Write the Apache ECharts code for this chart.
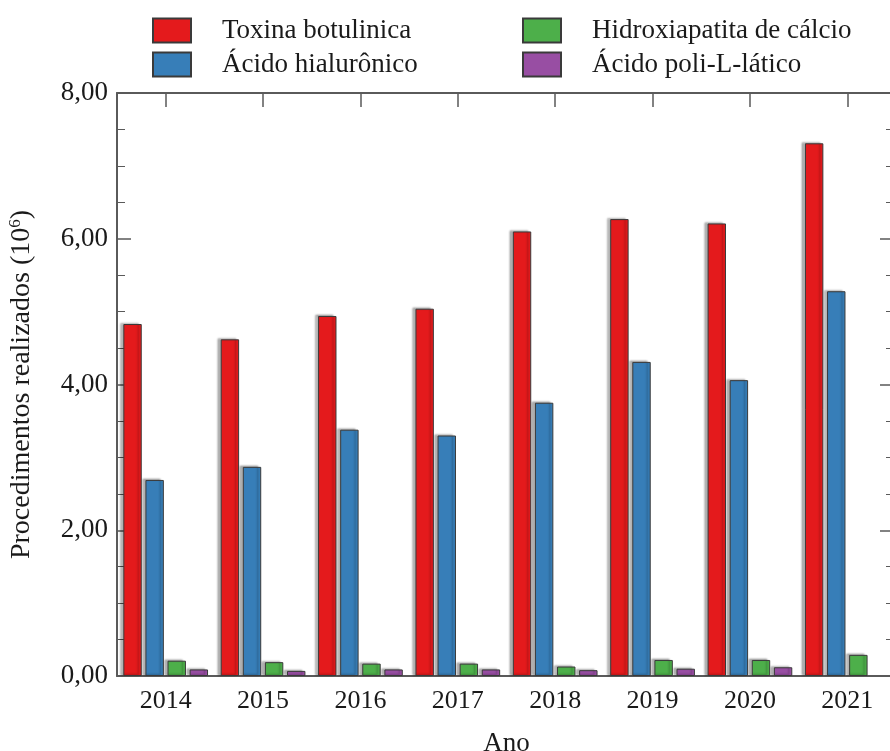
<!DOCTYPE html>
<html>
<head>
<meta charset="utf-8">
<script src="https://cdn.jsdelivr.net/npm/echarts@6/dist/echarts.min.js"></script>
<style>
  html, body { margin: 0; padding: 0; background: #fff; }
  #main { width: 890px; height: 751px; }
</style>
</head>
<body>
<div id="main"></div>
<script>
// dados do gráfico (milhões de procedimentos)
var anos = ['2014', '2015', '2016', '2017', '2018', '2019', '2020', '2021'];
var toxina = [4.83, 4.62, 4.94, 5.04, 6.10, 6.27, 6.21, 7.31];
var hialuronico = [2.69, 2.87, 3.38, 3.30, 3.75, 4.31, 4.06, 5.28];
var hidroxiapatita = [0.21, 0.19, 0.17, 0.17, 0.13, 0.22, 0.22, 0.29];
var poliLatico = [0.09, 0.07, 0.09, 0.09, 0.08, 0.10, 0.12, null];
var yTicks = [0, 2, 4, 6, 8];

var fonte = "'Liberation Serif', 'Times New Roman', serif";
var corEixo = '#5a5a5a';
var corTexto = '#1a1a1a';

var chart = echarts.init(document.getElementById('main'));

var barra = function (nome, dados, cor) {
  return {
    name: nome,
    type: 'bar',
    data: dados,
    barCategoryGap: '13%',
    barGap: '20%',
    itemStyle: {
      color: cor,
      borderColor: '#3a3a3a',
      borderWidth: 1,
      shadowColor: 'rgba(0,0,0,0.3)',
      shadowBlur: 2,
      shadowOffsetX: -3,
      shadowOffsetY: -1
    }
  };
};

var legendaBase = {
  orient: 'vertical',
  top: 17,
  padding: 0,
  itemWidth: 38,
  itemHeight: 24,
  itemGap: 7,
  icon: 'rect',
  textStyle: { fontFamily: fonte, fontSize: 27, color: corTexto, padding: [0, 0, 0, 26] }
};

chart.setOption({
  animation: false,
  backgroundColor: '#fff',
  textStyle: { fontFamily: fonte },
  legend: [
    Object.assign({}, legendaBase, { left: 152, data: ['Toxina botulinica', 'Ácido hialurônico'] }),
    Object.assign({}, legendaBase, { left: 522, data: ['Hidroxiapatita de cálcio', 'Ácido poli-L-lático'] })
  ],
  grid: { left: 117, right: -6, top: 93, bottom: 75, containLabel: false, outerBoundsMode: 'none' },
  xAxis: [{
    type: 'category',
    data: anos,
    position: 'bottom',
    name: 'Ano',
    nameLocation: 'middle',
    nameGap: 54,
    nameTextStyle: { fontFamily: fonte, fontSize: 27, color: corTexto },
    axisLine: { onZero: false, lineStyle: { color: corEixo, width: 2 } },
    axisTick: { show: false },
    axisLabel: { fontFamily: fonte, fontSize: 26, color: corTexto, margin: 12 }
  }, {
    // eixo de cima: marcas no centro de cada ano (meio de cada intervalo)
    type: 'value',
    min: 0,
    max: anos.length,
    interval: 1,
    position: 'top',
    splitLine: { show: false },
    axisLine: { show: true, onZero: false, lineStyle: { color: corEixo, width: 2 } },
    axisTick: { show: true, inside: true, length: 0 },
    minorTick: { show: true, splitNumber: 2, length: 14, lineStyle: { color: corEixo, width: 1.5 } },
    axisLabel: { show: false }
  }],
  yAxis: [{
    type: 'value',
    min: yTicks[0],
    max: yTicks[yTicks.length - 1],
    interval: 2,
    position: 'left',
    name: 'Procedimentos realizados (10{sup|6})',
    nameLocation: 'middle',
    nameGap: 80,
    nameTextStyle: {
      fontFamily: fonte, fontSize: 28, color: corTexto,
      rich: { sup: { fontFamily: fonte, fontSize: 17, color: corTexto, padding: [0, 0, 13, 0] } }
    },
    splitLine: { show: false },
    axisLine: { show: true, onZero: false, lineStyle: { color: corEixo, width: 2 } },
    axisTick: { show: true, inside: true, length: 14, lineStyle: { color: corEixo, width: 1.5 } },
    minorTick: { show: true, splitNumber: 4, length: 8, lineStyle: { color: corEixo, width: 1 } },
    axisLabel: {
      fontFamily: fonte, fontSize: 27, color: corTexto, margin: 9,
      formatter: function (v) { return v.toFixed(2).replace('.', ','); }
    }
  }, {
    type: 'value',
    min: yTicks[0],
    max: yTicks[yTicks.length - 1],
    interval: 2,
    position: 'right',
    splitLine: { show: false },
    axisLine: { show: false, onZero: false },
    axisTick: { show: true, inside: true, length: 16, lineStyle: { color: corEixo, width: 1.5 } },
    minorTick: { show: true, splitNumber: 4, length: 10, lineStyle: { color: corEixo, width: 1 } },
    axisLabel: { show: false }
  }],
  series: [
    barra('Toxina botulinica', toxina, '#e41a1c'),
    barra('Ácido hialurônico', hialuronico, '#377eb8'),
    barra('Hidroxiapatita de cálcio', hidroxiapatita, '#4daf4a'),
    barra('Ácido poli-L-lático', poliLatico, '#984ea3')
  ]
});
</script>
</body>
</html>
